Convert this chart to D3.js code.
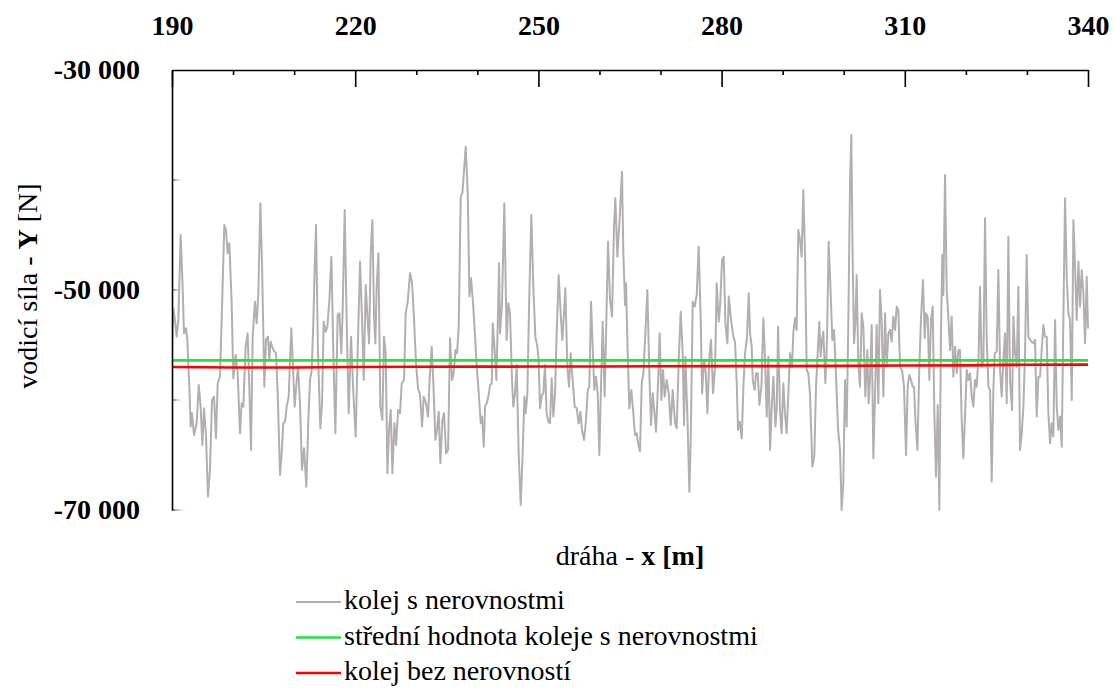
<!DOCTYPE html>
<html>
<head>
<meta charset="utf-8">
<script src="https://cdn.jsdelivr.net/npm/d3@7"></script>
<style>
  body { margin: 0; background: #fff; }
  svg text { font-family: "Liberation Serif", "DejaVu Serif", serif; fill: #000; }
</style>
</head>
<body>
<div id="chart"></div>
<script>
// distance along the track [m] and guiding force Y [N]
const distanceTicks = [190, 220, 250, 280, 310, 340];
const minorDistanceTicks = [200, 210, 230, 240, 260, 270, 290, 300, 320, 330];
const forceTicks = [-30000, -50000, -70000];
const forceGridTicks = [-40000, -50000, -60000, -70000];
const legendLabels = ["kolej s nerovnostmi", "střední hodnota koleje s nerovnostmi", "kolej bez nerovností"];

// track with irregularities: [x, Y]
const roughTrack = [
  [190.00,-55150],[190.22,-51670],[190.49,-52730],[190.76,-54240],[191.04,-52730],[191.42,-45000],[191.74,-49700],[191.96,-53940],[192.29,-53480],[192.51,-54540],
  [192.84,-58790],[193.06,-62420],[193.27,-61210],[193.60,-63180],[194.04,-62120],[194.37,-58630],[194.69,-60600],[194.97,-64090],[195.24,-60760],[195.57,-63330],
  [195.89,-68780],[196.22,-66360],[196.55,-60000],[196.88,-59690],[197.20,-63480],[197.48,-58480],[197.86,-57880],[198.13,-52730],[198.57,-44090],[198.84,-44540],
  [199.12,-46670],[199.39,-45760],[199.77,-51210],[200.04,-58030],[200.43,-55910],[200.75,-57570],[201.14,-63030],[201.41,-60300],[201.68,-60600],[202.06,-55150],
  [202.39,-53940],[202.66,-58790],[202.94,-64540],[203.21,-54240],[203.59,-51060],[203.87,-53030],[204.14,-50300],[204.47,-42120],[204.74,-47570],[205.12,-58790],
  [205.39,-54540],[205.72,-54240],[205.94,-56360],[206.16,-54700],[206.60,-55450],[207.03,-55760],[207.31,-59390],[207.69,-66820],[207.96,-64850],[208.23,-62120],
  [208.51,-61970],[208.78,-60600],[209.11,-59690],[209.33,-56360],[209.54,-53480],[209.76,-56360],[210.09,-60600],[210.36,-58630],[210.64,-56970],[210.96,-60300],
  [211.29,-66360],[211.62,-64390],[212.00,-67880],[212.33,-61820],[212.60,-58180],[212.88,-57270],[213.15,-52730],[213.37,-47880],[213.58,-44090],[213.91,-55760],
  [214.29,-62570],[214.57,-60300],[214.84,-52880],[215.17,-53790],[215.44,-53330],[215.77,-50910],[216.10,-46970],[216.42,-55760],[216.75,-63030],[217.13,-52270],
  [217.41,-52120],[217.73,-55760],[217.95,-51820],[218.28,-42730],[218.61,-53030],[218.94,-61210],[219.32,-54240],[219.70,-59390],[220.08,-63330],[220.41,-55450],
  [220.79,-47420],[221.12,-52730],[221.39,-58180],[221.72,-49540],[221.99,-52270],[222.27,-54850],[222.54,-46670],[222.81,-43640],[223.09,-52420],[223.30,-54850],
  [223.52,-49700],[223.80,-46670],[224.12,-60600],[224.45,-61820],[224.72,-54240],[225.00,-55760],[225.27,-66660],[225.54,-62720],[225.82,-60910],[226.09,-66660],
  [226.42,-62120],[226.69,-64090],[227.02,-60910],[227.34,-61210],[227.62,-58480],[228.00,-58180],[228.27,-52120],[228.60,-51060],[228.98,-48480],[229.31,-49390],
  [229.64,-52730],[229.96,-56660],[230.29,-58940],[230.62,-59540],[230.95,-62420],[231.22,-59690],[231.60,-60300],[231.93,-61510],[232.20,-58030],[232.53,-55150],
  [232.80,-58480],[233.13,-63630],[233.40,-62720],[233.68,-61060],[233.95,-65750],[234.28,-61820],[234.55,-61210],[234.88,-64850],[235.21,-64540],[235.53,-54390],
  [235.86,-58180],[236.13,-57570],[236.41,-55450],[236.68,-55760],[236.95,-53330],[237.28,-41510],[237.55,-41210],[237.83,-39090],[238.10,-36970],[238.43,-41210],
  [238.70,-50600],[238.97,-48940],[239.30,-51210],[239.63,-54240],[239.90,-56970],[240.23,-59390],[240.56,-62120],[240.78,-61510],[241.05,-64240],[241.27,-60600],
  [241.54,-60300],[241.81,-59690],[242.09,-58630],[242.36,-58480],[242.52,-53030],[242.80,-55150],[243.12,-58180],[243.40,-51820],[243.56,-47570],
  [243.71,-53940],[244.04,-51210],[244.42,-42120],[244.80,-54540],[245.08,-51210],[245.35,-52120],[245.68,-58180],[245.89,-60600],[246.17,-59390],[246.44,-56820],
  [246.77,-64850],[247.10,-69540],[247.42,-64850],[247.70,-59690],[247.91,-61210],[248.19,-59390],[248.51,-50600],[248.84,-43180],[249.17,-49700],[249.50,-54240],
  [249.83,-55150],[250.04,-56360],[250.26,-60760],[250.59,-59540],[250.81,-59390],[251.08,-56820],[251.35,-61210],[251.63,-61970],[251.90,-62120],[252.17,-58030],
  [252.45,-61510],[252.72,-59540],[252.99,-53940],[253.32,-48630],[253.65,-52120],[253.92,-54540],[254.19,-52120],[254.41,-49850],[254.74,-56970],[255.01,-58790],
  [255.29,-55760],[255.61,-58180],[255.94,-60600],[256.27,-60760],[256.60,-62120],[256.87,-61060],[257.14,-62720],[257.47,-63630],[257.80,-61820],[258.07,-59090],
  [258.34,-58790],[258.62,-51060],[258.89,-55150],[259.16,-59090],[259.43,-57880],[259.71,-59390],[259.98,-65000],[260.25,-58790],[260.53,-52880],[260.85,-59690],
  [261.07,-54240],[261.40,-45610],[261.73,-50910],[262.06,-52420],[262.38,-44240],[262.60,-41670],[262.93,-46970],[263.26,-43940],[263.69,-39240],[263.91,-46670],
  [264.19,-51360],[264.35,-49390],[264.62,-55760],[264.89,-60760],[265.22,-59090],[265.55,-61210],[265.82,-63180],[266.10,-63030],[266.37,-64090],[266.64,-64690],
  [266.92,-58480],[267.19,-57570],[267.52,-53940],[267.84,-50000],[268.17,-57570],[268.44,-62270],[268.72,-59390],[268.99,-61060],[269.26,-62880],[269.59,-58480],
  [269.86,-53940],[270.14,-60000],[270.41,-57270],[270.68,-59690],[271.01,-58180],[271.34,-59390],[271.67,-62270],[271.99,-59090],[272.38,-62120],[272.65,-62570],
  [272.98,-56360],[273.30,-51970],[273.63,-55760],[273.85,-62270],[274.07,-56060],[274.40,-61510],[274.72,-68330],[274.94,-63630],[275.11,-57270],[275.27,-51060],
  [275.60,-51510],[275.92,-50450],[276.25,-46060],[276.58,-52730],[276.80,-59390],[277.13,-56360],[277.40,-57420],[277.67,-61210],[278.00,-56060],[278.27,-54540],
  [278.60,-59390],[278.93,-56970],[279.20,-49390],[279.53,-52880],[279.75,-51510],[280.07,-47270],[280.35,-46970],[280.62,-53030],[280.95,-54850],[281.17,-50600],
  [281.55,-52730],[281.93,-54240],[282.20,-54700],[282.48,-58480],[282.69,-62720],[282.97,-61970],[283.30,-63480],[283.57,-58790],[283.84,-55760],[284.17,-54240],
  [284.44,-50300],[284.66,-53940],[284.93,-55150],[285.10,-58180],[285.42,-59090],[285.64,-57570],[285.92,-57570],[286.19,-60450],[286.52,-58790],[286.84,-52570],
  [287.12,-56360],[287.39,-61510],[287.66,-56060],[287.94,-64540],[288.21,-60600],[288.48,-57880],[288.81,-62420],[289.03,-60910],[289.25,-53330],
  [289.56,-60910],[289.83,-63030],[290.11,-58480],[290.38,-61210],[290.65,-63030],[290.93,-59390],[291.20,-55760],[291.53,-56970],[291.74,-53940],[292.02,-52570],
  [292.29,-53630],[292.56,-44540],[292.84,-45450],[293.11,-46970],[293.38,-40910],[293.66,-46670],[293.93,-57270],[294.20,-57570],[294.47,-59390],[294.86,-66060],
  [295.18,-65150],[295.46,-58790],[295.73,-55760],[296.00,-52880],[296.22,-56060],[296.44,-54540],[296.66,-53790],[296.99,-58480],[297.26,-54540],[297.53,-45610],
  [297.80,-49390],[298.13,-54540],[298.41,-53630],[298.68,-56970],[299.06,-62570],[299.39,-64540],[299.66,-70000],[299.93,-67570],[300.21,-58180],[300.48,-62420],
  [300.75,-53030],[301.03,-40300],[301.24,-35910],[301.46,-46970],[301.68,-54850],[301.90,-53030],[302.12,-48630],[302.39,-56660],[302.66,-58790],[302.94,-52120],
  [303.21,-53330],[303.54,-59690],[303.87,-55450],[304.08,-60300],[304.30,-58180],[304.58,-53180],[304.85,-65300],[305.12,-59690],[305.39,-53180],[305.67,-60300],
  [305.94,-50000],[306.21,-52730],[306.49,-59690],[306.76,-52120],[307.03,-56970],[307.31,-53940],[307.58,-53630],[307.85,-54700],[308.12,-52420],[308.40,-53630],
  [308.67,-51510],[308.94,-51820],[309.22,-56970],[309.54,-57270],[309.87,-58790],[310.20,-65000],[310.47,-58790],[310.74,-57720],[311.02,-58180],[311.29,-58790],
  [311.51,-58790],[311.73,-61820],[312.06,-64540],[312.38,-56970],[312.66,-52420],[312.98,-49090],[313.26,-54390],[313.47,-52120],[313.75,-52420],[314.02,-58180],
  [314.29,-52730],[314.57,-51510],[314.84,-61210],[315.11,-66970],[315.39,-60450],[315.66,-70000],[315.93,-53630],[316.15,-46820],[316.31,-50450],[316.59,-39550],
  [316.86,-50000],[317.13,-52420],[317.41,-55450],[317.68,-52420],[317.95,-57880],[318.23,-55150],[318.50,-57570],[318.77,-55450],[319.04,-55450],[319.32,-61820],
  [319.59,-65300],[319.92,-60600],[320.14,-57270],[320.41,-58180],[320.68,-57570],[320.96,-59690],[321.23,-60600],[321.50,-58180],[321.77,-58790],[322.10,-55760],
  [322.32,-49700],[322.59,-56970],[322.87,-56360],[323.14,-43480],[323.41,-54240],[323.69,-58790],[323.96,-59090],[324.23,-67420],[324.50,-59090],[324.72,-55760],
  [325.05,-55600],[325.32,-48180],[325.60,-57270],[325.87,-59690],[326.14,-56360],[326.42,-53940],[326.69,-60300],[326.96,-45150],[327.23,-58180],[327.56,-60910],
  [327.78,-52420],[328.05,-55760],[328.33,-56970],[328.60,-49700],[328.87,-64540],[329.15,-63030],[329.42,-60600],[329.69,-55760],[329.96,-46820],[330.24,-54240],
  [330.51,-54540],[330.78,-54700],[331.06,-54850],[331.33,-54540],[331.60,-61510],[331.88,-57880],[332.15,-57880],[332.42,-55450],[332.69,-53180],[332.97,-54240],
  [333.24,-54240],[333.51,-61210],[333.79,-63940],[334.06,-62120],[334.33,-63330],[334.61,-52730],[334.88,-60600],[335.15,-62720],[335.42,-61510],[335.70,-64240],
  [335.97,-52420],[336.24,-41670],[336.52,-48790],[336.79,-52120],[337.06,-52730],[337.34,-60000],[337.61,-43640],[337.88,-47880],[338.15,-52730],[338.43,-47420],
  [338.70,-51510],[338.97,-48180],[339.25,-50300],[339.52,-54850],[339.79,-48790],[340.00,-53500]
];

// mean value of the track with irregularities
const meanForce = -56400;

// track without irregularities
const smoothX = [190, 200, 210, 220, 230, 240, 250, 260, 270, 280, 290, 300, 310, 320, 330, 340];
const smoothY = [-57000, -57050, -57050, -57000, -56980, -56970, -56960, -56950, -56930, -56920, -56920, -56900, -56870, -56850, -56800, -56780];

const seriesColours = ["#b3afae", "#1fe43b", "#ff0000"];

class GuideForceChart {
  constructor(_config) {
    this.config = {
      parentElement: _config.parentElement,
      containerWidth: 1115,
      containerHeight: 689,
      margin: { top: 70, right: 27, bottom: 179, left: 172 },
      fontSize: 28,
    };
    this.initVis();
  }

  initVis() {
    let vis = this;

    vis.width = vis.config.containerWidth - vis.config.margin.left - vis.config.margin.right;
    vis.height = vis.config.containerHeight - vis.config.margin.top - vis.config.margin.bottom;

    vis.xScale = d3.scaleLinear().domain([190, 340]).range([0, vis.width]);
    vis.yScale = d3.scaleLinear().domain([-70000, -30000]).range([vis.height, 0]);

    const czech = d3.formatLocale({ decimal: ",", thousands: " ", grouping: [3], currency: ["", " Kč"], minus: "-" });

    vis.xAxis = d3.axisTop(vis.xScale).tickValues(distanceTicks).tickSize(-17).tickSizeOuter(0)
      .tickPadding(35).tickFormat(d3.format("d"));
    vis.xAxisMinor = d3.axisTop(vis.xScale).tickValues(minorDistanceTicks).tickSize(-5).tickSizeOuter(0)
      .tickFormat("");
    vis.yAxis = d3.axisLeft(vis.yScale).tickValues(forceTicks).tickSize(0).tickSizeOuter(0)
      .tickPadding(32).tickFormat(czech.format(",d"));

    vis.svg = d3.select(vis.config.parentElement).append("svg")
      .attr("width", vis.config.containerWidth)
      .attr("height", vis.config.containerHeight);

    // faded tick marks on the left axis
    const grad = vis.svg.append("defs").append("linearGradient").attr("id", "tick-fade");
    grad.append("stop").attr("offset", "0%").attr("stop-color", "#444");
    grad.append("stop").attr("offset", "100%").attr("stop-color", "#fff").attr("stop-opacity", 0);

    vis.chartArea = vis.svg.append("g")
      .attr("transform", `translate(${vis.config.margin.left},${vis.config.margin.top})`);

    vis.chartArea.append("clipPath").attr("id", "plot-clip")
      .append("rect").attr("x", 0).attr("y", -2).attr("width", vis.width + 3).attr("height", vis.height + 4);

    vis.chart = vis.chartArea.append("g").attr("clip-path", "url(#plot-clip)");

    vis.renderVis();
  }

  renderVis() {
    let vis = this;
    const fs = vis.config.fontSize;

    vis.chartArea.selectAll(".ytick-fade").data(forceGridTicks).join("rect")
      .attr("class", "ytick-fade")
      .attr("x", 0)
      .attr("y", (d) => vis.yScale(d) - 0.75)
      .attr("width", (d) => (d === -70000 ? 16 : 12))
      .attr("height", 1.5)
      .attr("fill", "url(#tick-fade)");

    const line = d3.line().x((d) => vis.xScale(d[0])).y((d) => vis.yScale(d[1]));

    vis.chart.append("path")
      .datum(roughTrack)
      .attr("fill", "none")
      .attr("stroke", seriesColours[0])
      .attr("stroke-width", 2)
      .attr("stroke-linejoin", "round")
      .attr("d", line);

    vis.chart.append("path")
      .datum([[190, meanForce], [340, meanForce]])
      .attr("fill", "none")
      .attr("stroke", seriesColours[1])
      .attr("stroke-width", 2.6)
      .attr("d", line);

    vis.chart.append("path")
      .datum(smoothX.map((x, i) => [x, smoothY[i]]))
      .attr("fill", "none")
      .attr("stroke", seriesColours[2])
      .attr("stroke-width", 2.6)
      .attr("d", line);

    // axes
    const xg = vis.chartArea.append("g").call(vis.xAxis);
    const xgMinor = vis.chartArea.append("g").call(vis.xAxisMinor);
    const yg = vis.chartArea.append("g").call(vis.yAxis);

    [xg, xgMinor, yg].forEach((g) => {
      g.attr("font-family", null);
      g.select(".domain").attr("stroke", "#000").attr("stroke-width", 1.6);
      g.selectAll(".tick line").attr("stroke", "#000").attr("stroke-width", 1.6);
    });
    xgMinor.select(".domain").remove();

    xg.selectAll(".tick text").attr("font-size", fs).attr("font-weight", "bold").attr("fill", "#000");
    yg.selectAll(".tick text").attr("font-size", fs).attr("font-weight", "bold").attr("fill", "#000").attr("dy", 8);

    // axis titles
    const yTitle = vis.svg.append("text")
      .attr("transform", "translate(37,286) rotate(-90)")
      .attr("text-anchor", "middle")
      .attr("font-size", fs);
    yTitle.append("tspan").text("vodicí síla - ");
    yTitle.append("tspan").attr("font-weight", "bold").text("Y");
    yTitle.append("tspan").text(" [N]");

    const xTitle = vis.svg.append("text")
      .attr("x", 630)
      .attr("y", 565)
      .attr("text-anchor", "middle")
      .attr("font-size", fs);
    xTitle.append("tspan").text("dráha - ");
    xTitle.append("tspan").attr("font-weight", "bold").text("x [m]");

    // legend
    const legend = vis.svg.append("g").attr("transform", "translate(296,602)");
    const items = legend.selectAll(".legend-item").data(legendLabels).join("g")
      .attr("class", "legend-item")
      .attr("transform", (d, i) => `translate(0,${i * 35.5})`);
    items.append("line")
      .attr("x1", 0).attr("x2", 45)
      .attr("stroke", (d, i) => seriesColours[i])
      .attr("stroke-width", (d, i) => (i === 0 ? 2 : 2.6));
    items.append("text")
      .attr("x", 48)
      .attr("y", 7)
      .attr("font-size", fs)
      .text((d) => d);
  }
}

new GuideForceChart({ parentElement: "#chart" });
</script>
</body>
</html>
